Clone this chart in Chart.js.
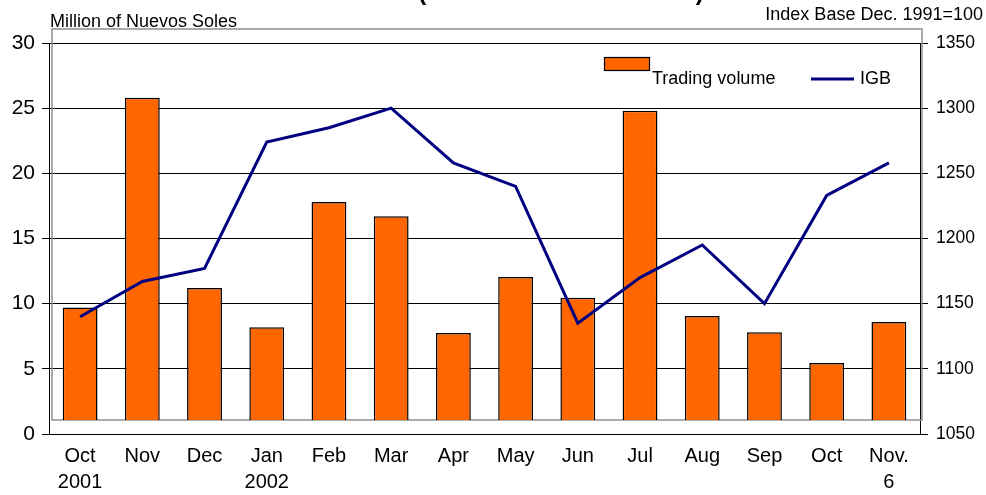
<!DOCTYPE html>
<html>
<head>
<meta charset="utf-8">
<script src="https://cdn.jsdelivr.net/npm/chart.js@4.4.1/dist/chart.umd.min.js"></script>
<style>
  html, body { margin: 0; padding: 0; background: #fff; }
  #wrap { width: 986px; height: 495px; position: relative; }
</style>
</head>
<body>
<div id="wrap"><canvas id="igbChart"></canvas></div>
<script>
/* ------------------------------
   DATA
--------------------------------*/

const months = [["Oct", "2001"], "Nov", "Dec", ["Jan", "2002"], "Feb", "Mar", "Apr",
                "May", "Jun", "Jul", "Aug", "Sep", "Oct", ["Nov.", "6"]];

// trading volume, million of Nuevos Soles
const tradingVolume = [9.7, 25.8, 11.2, 8.2, 17.8, 16.7, 7.75, 12.05, 10.45, 24.8, 9.05, 7.8, 5.45, 8.6];

// IGB index (base Dec. 1991 = 100)
const igb = [1140, 1167, 1177, 1274, 1285, 1300, 1258, 1240, 1135, 1170, 1195, 1150, 1233, 1258];

const volumeTicks = { min: 0, max: 30, step: 5 };
const igbTicks = { min: 1050, max: 1350, step: 50 };

const FONT = "'Liberation Sans', Arial, sans-serif";

/* ------------------------------
   EXTRA DRAWING (frame, headers, legend)
--------------------------------*/

const decorPlugin = {
    id: "decor",
    beforeDatasetsDraw(chart) {
        const { ctx, chartArea: a } = chart;
        ctx.save();
        ctx.strokeStyle = "#8f8f8f";
        ctx.lineWidth = 1.5;
        ctx.strokeRect(a.left + 3, a.top - 14, a.right - a.left - 1, a.bottom - a.top);
        ctx.restore();
    },
    afterDraw(chart) {
        const { ctx } = chart;
        ctx.save();
        ctx.fillStyle = "#000";
        ctx.textBaseline = "alphabetic";

        // title, mostly cut off by the top edge
        ctx.font = "bold 24px " + FONT;
        ctx.textAlign = "center";
        ctx.fillText("(Million of Nuevos Soles)", 561, 0);

        ctx.font = "18px " + FONT;
        ctx.textAlign = "left";
        ctx.fillText("Million of Nuevos Soles", 50, 27);
        ctx.textAlign = "right";
        ctx.fillText("Index Base Dec. 1991=100", 983, 20);

        // legend
        ctx.fillStyle = "#FF6600";
        ctx.fillRect(604.5, 57.5, 45, 13);
        ctx.strokeStyle = "#000";
        ctx.lineWidth = 1.2;
        ctx.strokeRect(604.5, 57.5, 45, 13);
        ctx.fillStyle = "#000";
        ctx.textAlign = "left";
        ctx.fillText("Trading volume", 652, 84);

        ctx.strokeStyle = "#000080";
        ctx.lineWidth = 3;
        ctx.beginPath();
        ctx.moveTo(811, 79);
        ctx.lineTo(854, 79);
        ctx.stroke();
        ctx.fillText("IGB", 860, 84);
        ctx.restore();
    }
};

/* ------------------------------
   CHART
--------------------------------*/

let ctx = document.getElementById("igbChart");

let igbChart = new Chart(ctx, {
    type: "bar",
    data: {
        labels: months,
        datasets: [{
            type: "line",
            label: "IGB",
            data: igb,
            yAxisID: "y2",
            borderColor: "#000080",
            borderWidth: 3,
            pointRadius: 0,
            tension: 0,
            order: 0
        }, {
            label: "Trading volume",
            data: tradingVolume,
            yAxisID: "y",
            base: 1.07,
            backgroundColor: "#FF6600",
            borderColor: "#000",
            borderWidth: 1.5,
            barPercentage: 0.56,
            categoryPercentage: 1,
            order: 1
        }]
    },
    options: {
        responsive: true,
        maintainAspectRatio: false,
        animation: false,
        layout: { padding: { top: 43, left: 0, right: 0, bottom: 0 } },
        plugins: {
            legend: { display: false },
            tooltip: { enabled: false }
        },
        scales: {
            x: {
                grid: { display: false },
                border: { display: true, color: "#000", width: 1 },
                ticks: {
                    color: "#000",
                    font: { family: FONT, size: 20, lineHeight: 1.3 },
                    maxRotation: 0,
                    autoSkip: false,
                    padding: 1
                },
                afterFit(s) { s.height = 61; }
            },
            y: {
                position: "left",
                min: volumeTicks.min,
                max: volumeTicks.max,
                border: { display: true, color: "#000", width: 1 },
                grid: { color: "#000", lineWidth: 1, tickLength: 7 },
                ticks: {
                    stepSize: volumeTicks.step,
                    color: "#000",
                    font: { family: FONT, size: 21 },
                    padding: 7
                },
                afterFit(s) { s.width = 49; }
            },
            y2: {
                position: "right",
                min: igbTicks.min,
                max: igbTicks.max,
                border: { display: true, color: "#000", width: 1 },
                grid: { drawOnChartArea: false, color: "#000", tickLength: 8 },
                ticks: {
                    stepSize: igbTicks.step,
                    color: "#000",
                    font: { family: FONT, size: 17.5 },
                    padding: 8,
                    callback: v => String(v)
                },
                afterFit(s) { s.width = 66; }
            }
        }
    },
    plugins: [decorPlugin]
});
</script>
</body>
</html>
